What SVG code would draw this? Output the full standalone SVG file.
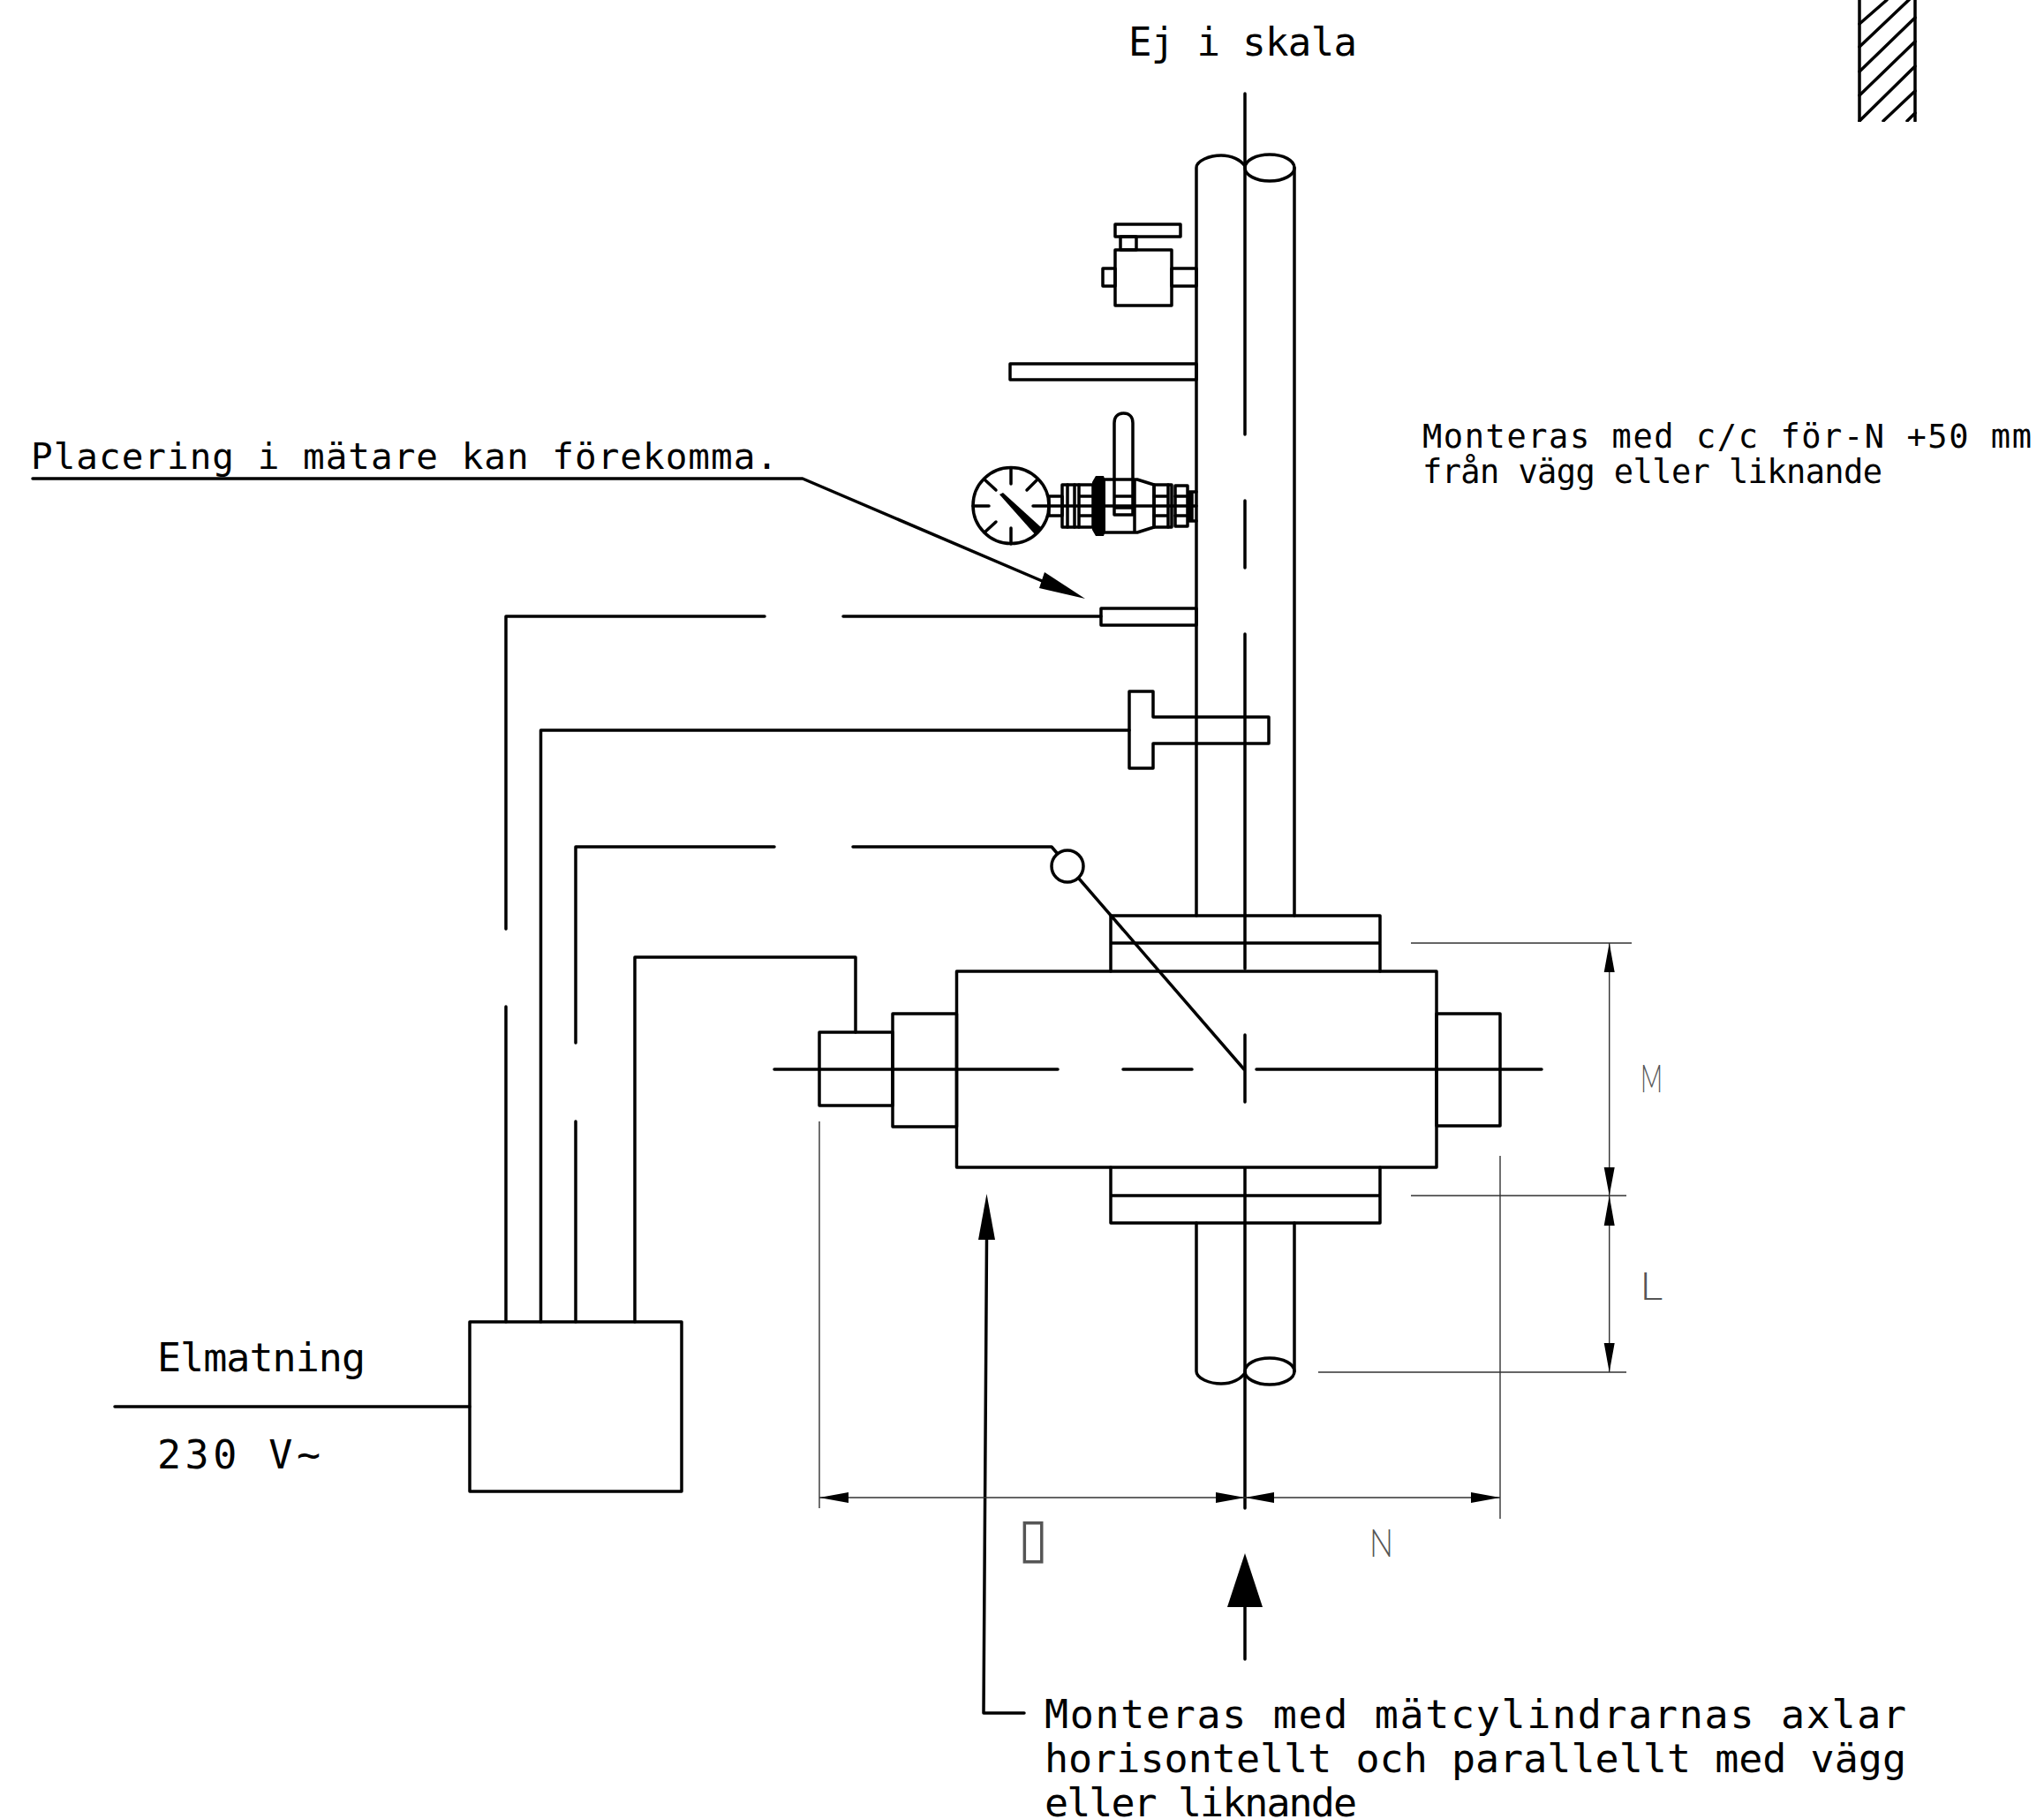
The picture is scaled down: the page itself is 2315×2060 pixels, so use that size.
<svg xmlns="http://www.w3.org/2000/svg" width="2315" height="2060" viewBox="0 0 2315 2060">
<style>
.l{fill:none;stroke:#000;stroke-width:3.5;stroke-linecap:round;stroke-linejoin:round}
.d{fill:none;stroke:#333;stroke-width:1.4}
.a{fill:#000;stroke:none}
.t{font-family:"DejaVu Sans Mono","Liberation Mono",monospace;fill:#000}
.g{font-family:"Lato","Liberation Sans",sans-serif;font-weight:300;fill:#555;font-size:43px}
.b{font-family:"DejaVu Sans",sans-serif;fill:#555;font-size:62px}
</style>
<defs>
<clipPath id="hc"><rect x="2104" y="0" width="68" height="138"/></clipPath>
</defs>
<rect width="2315" height="2060" fill="#fff"/>

<g id="wall" clip-path="url(#hc)">
<path class="l" d="M2106 0V137M2169 0V137"/>
<path class="l" d="M2106 27L2137 0M2106 53L2165 -3M2106 81L2169 20M2106 108L2169 47M2106 137L2169 75M2133 137L2169 103M2160 137L2169 128"/>
</g>

<g id="pipe">
<path class="l" d="M1355 1037V190C1355 182 1370 176 1383 176C1395 176 1405 181 1410 188"/>
<path class="l" d="M1466 190V1037"/>
<ellipse class="l" cx="1438" cy="190" rx="28" ry="15"/>
<path class="l" d="M1355 1385V1553C1355 1561 1370 1567 1383 1567C1395 1567 1405 1562 1410 1555"/>
<path class="l" d="M1466 1385V1553"/>
<ellipse class="l" cx="1438" cy="1553" rx="28" ry="15"/>
</g>

<g id="valve">
<rect class="l" x="1263" y="254" width="74" height="14"/>
<rect class="l" x="1269" y="268" width="18" height="15"/>
<rect class="l" x="1263" y="283" width="64" height="63"/>
<rect class="l" x="1249" y="304" width="14" height="20"/>
<rect class="l" x="1327" y="304" width="28" height="20"/>
</g>

<g id="bar"><rect class="l" x="1144" y="412" width="211" height="18"/></g>

<g id="gauge">
<circle class="l" cx="1145" cy="572.500" r="43"/>
<path class="l" d="M1145 530V548M1145 598V616M1102 573H1120M1170 573H1188M1115 543L1128 555M1175 543L1163 555M1115 603L1128 591"/>
<path class="a" d="M1132 560L1136 558L1180 598L1172 605Z"/>
<rect class="l" x="1188" y="562" width="15" height="22"/>
<rect class="l" x="1203" y="549" width="35" height="48"/>
<path class="l" d="M1209 549V597M1217 549V597M1222 549V597M1222 562H1238M1222 584H1238"/>
<path class="a" d="M1241 539H1250L1252 545V601L1250 607H1241L1237 600V546Z"/>
<path class="l" d="M1250 543H1288L1307 549V597L1288 603H1250M1285 543V603"/>
<rect class="l" x="1307" y="549" width="20" height="48"/>
<path class="l" d="M1307 562H1323M1307 584H1323M1323 549V597"/>
<rect class="l" x="1331" y="550" width="14" height="46"/>
<path class="l" d="M1331 562H1345M1331 584H1345M1347 557H1355M1347 590H1355M1347 557V590M1350 557V590"/>
<path class="l" d="M1262 583V479C1262 472 1266 468 1272.500 468C1279 468 1283 472 1283 479V583ZM1262 562H1283M1262 575H1283"/>
<path class="l" d="M1188 573H1355"/>
</g>

<g id="sensor1"><rect class="l" x="1247" y="689" width="108" height="19"/></g>
<g id="sensor2"><path class="l" d="M1279 783H1306V812H1437V842H1306V870H1279Z"/></g>
<g id="sensor3"><circle class="l" cx="1209" cy="981" r="18"/></g>

<g id="meter">
<rect class="l" x="1083.500" y="1100" width="543.500" height="222"/>
<rect class="l" x="1011" y="1148" width="72.500" height="128"/>
<rect class="l" x="928" y="1169" width="83" height="83"/>
<rect class="l" x="1627" y="1148" width="72" height="127"/>
<path class="l" d="M1258 1100V1037H1563V1100M1258 1068H1563"/>
<path class="l" d="M1258 1322V1385H1563V1322M1258 1354H1563"/>
</g>

<g id="axes">
<path class="l" d="M1410 106V492M1410 567V643M1410 718V1097M1410 1172V1248M1410 1323V1708"/>
<path class="l" d="M877 1211H1198M1272 1211H1350M1423 1211H1746"/>
</g>

<g id="box"><rect class="l" x="532" y="1497" width="240" height="192"/></g>

<g id="connectors">
<path class="l" d="M130 1593H532"/>
<path class="l" d="M573 1497V1140M573 1052V698H866M955 698H1247"/>
<path class="l" d="M612.500 1497V827H1279"/>
<path class="l" d="M652 1497V1270M652 1181V959H877M966 959H1191L1197 966"/>
<path class="l" d="M719 1497V1084H969V1169"/>
<path class="l" d="M1222 995L1409 1211"/>
<path class="l" d="M37 542H909L1185 660"/>
<path class="a" d="M1229 678L1183 648L1177 666Z"/>
<path class="l" d="M1117.500 1404L1114 1940H1160"/>
<path class="a" d="M1117.500 1352L1108 1404H1127Z"/>
<path class="l" d="M1410 1879V1820"/>
<path class="a" d="M1410 1759L1390 1820H1430Z"/>
</g>

<g id="dimensions">
<path class="d" d="M1598 1068H1848M1598 1354H1842M1493 1554H1842M1822.700 1068V1554"/>
<path class="d" d="M1699 1309V1720M928 1270V1708M928 1696H1699"/>
<path class="a" d="M1822.700 1068L1816.700 1101H1828.700ZM1822.700 1354L1816.700 1322H1828.700ZM1822.700 1354L1816.700 1388H1828.700ZM1822.700 1554L1816.700 1521H1828.700Z"/>
<path class="a" d="M928 1696L961 1690V1702ZM1410 1696L1377 1690V1702ZM1410 1696L1443 1690V1702ZM1699 1696L1666 1690V1702Z"/>
</g>

<g id="labels">
<text class="t" x="1278" y="63" font-size="44" textLength="259">Ej i skala</text>
<text class="t" x="35" y="531" font-size="41" textLength="846">Placering i mätare kan förekomma.</text>
<text class="t" x="1611" y="507" font-size="37" textLength="690">Monteras med c/c för-N +50 mm</text>
<text class="t" x="1611" y="547" font-size="37" textLength="521">från vägg eller liknande</text>
<text class="t" x="178" y="1553" font-size="45" textLength="236">Elmatning</text>
<text class="t" x="178" y="1663" font-size="45" textLength="185">230 V~</text>
<text class="t" x="1183" y="1957" font-size="45" textLength="976">Monteras med mätcylindrarnas axlar</text>
<text class="t" x="1183" y="2007" font-size="45" textLength="976">horisontellt och parallellt med vägg</text>
<text class="t" x="1183" y="2057" font-size="45" textLength="354">eller liknande</text>
<text class="g" x="1858" y="1237" textLength="25" lengthAdjust="spacingAndGlyphs">M</text>
<text class="g" x="1857" y="1472" textLength="26" lengthAdjust="spacingAndGlyphs">L</text>
<text class="g" x="1551" y="1763" textLength="27" lengthAdjust="spacingAndGlyphs">N</text>
<text class="b" x="1153" y="1763">▯</text>
</g>
</svg>
